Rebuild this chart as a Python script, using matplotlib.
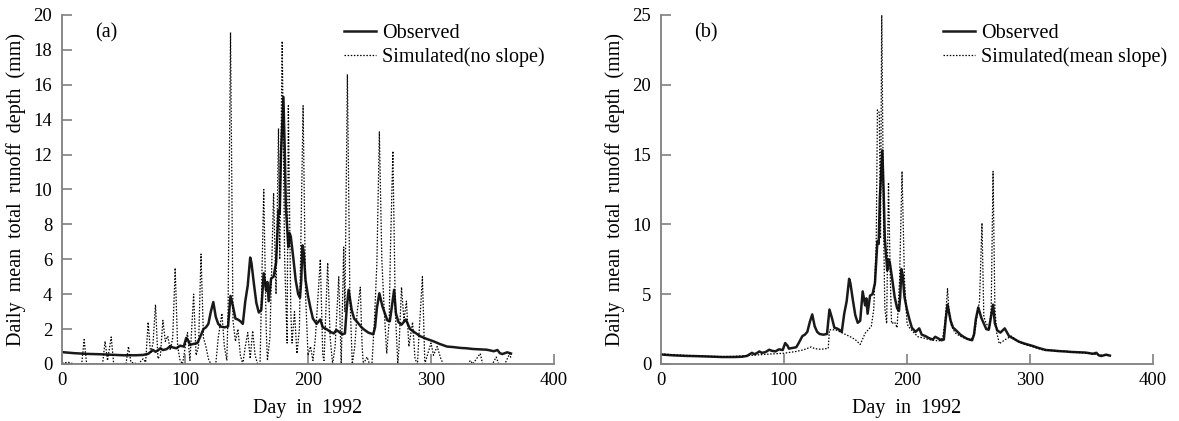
import matplotlib.pyplot as plt

plt.rcParams['font.family'] = ['Liberation Serif', 'DejaVu Serif']
plt.rcParams['font.size'] = 14.5

# observed daily runoff depth (mm), shared by both panels
obs_day = [0, 10, 20, 30, 40, 50, 60, 66, 70, 74, 76, 78, 80, 82, 85, 88, 90, 93, 96, 99,
           101, 103, 104, 107, 110, 112, 115, 117, 119, 121, 123, 125, 127, 129, 132, 135,
           137, 139, 141, 143, 145, 147, 149, 151, 153, 154, 156, 158, 160, 162, 164, 166,
           167, 168, 170, 172, 174, 176, 177, 178, 180, 181, 182, 183, 184, 185, 186, 188,
           190, 192, 193.5, 194.5, 195.5, 196.5, 198, 200, 202, 204, 207, 210, 212, 215,
           218, 221, 223, 226, 228, 230, 231.5, 233, 235.5, 237.5, 239.5, 243.5, 246, 249,
           253, 254.5, 256, 258, 260.5, 262.5, 264.5, 266.5, 268, 270, 271.5, 273.5, 276,
           279.5, 283, 287, 291, 296, 302, 307, 313, 318, 324, 329, 334, 339, 345, 348,
           351, 354, 356, 358, 360, 362, 365]
obs_val = [0.68, 0.62, 0.58, 0.56, 0.53, 0.50, 0.50, 0.52, 0.58, 0.80, 0.70, 0.78, 0.90,
           0.80, 0.85, 1.02, 0.95, 0.90, 1.05, 1.00, 1.50, 1.30, 1.10, 1.15, 1.20, 1.50,
           2.00, 2.10, 2.30, 3.00, 3.55, 2.70, 2.30, 2.15, 2.10, 2.15, 3.90, 3.30, 2.60,
           2.55, 2.45, 2.30, 3.60, 4.50, 6.10, 5.80, 4.60, 3.50, 2.95, 3.10, 5.20, 4.20,
           4.70, 3.60, 4.90, 5.00, 5.80, 8.80, 8.60, 12.0, 15.3, 12.5, 9.00, 7.80, 6.70,
           7.50, 7.30, 6.10, 4.80, 4.00, 3.80, 4.80, 6.80, 6.40, 4.80, 3.90, 3.20, 2.60,
           2.30, 2.55, 2.10, 2.00, 1.85, 1.75, 1.95, 1.80, 1.70, 1.75, 3.20, 4.25, 3.10,
           2.60, 2.45, 2.10, 1.95, 1.80, 1.70, 2.10, 3.20, 4.05, 3.30, 2.90, 2.50, 2.45,
           3.20, 4.25, 2.90, 2.40, 2.25, 2.55, 2.00, 1.80, 1.60, 1.45, 1.30, 1.15, 1.00,
           0.97, 0.92, 0.90, 0.86, 0.84, 0.82, 0.78, 0.73, 0.80, 0.62, 0.57, 0.62, 0.67,
           0.60]

# simulated, no slope (panel a)
sim_a_day = [0, 5, 10, 16, 18, 20, 33, 35, 37, 40, 42, 52, 54, 56, 62, 66, 68, 70, 72, 74,
             76, 78, 80, 82, 84, 86, 88, 90, 92, 94, 96, 98, 100, 102, 104, 107, 109, 111,
             113, 115, 117, 119, 121, 125, 127, 130, 132, 134, 135, 137, 139, 141, 143, 145,
             147, 149, 151, 153, 155, 157, 159, 161, 164, 166, 167, 169, 172, 174, 176, 177,
             179, 181, 183, 184, 186, 187, 189, 191, 193, 196, 198, 200, 202, 204, 206, 210,
             212, 213, 216, 218, 220, 222, 225, 227, 229, 230, 232, 234, 236, 238, 240,
             242.5, 244, 245, 248, 250, 252, 254, 256, 258, 260, 262, 264, 266, 267, 269,
             271, 273, 274, 276, 278, 280, 282, 285, 287, 289, 290, 293, 295, 297, 300, 302,
             305, 308, 310, 330, 332, 334, 340, 342, 350, 353, 355, 360, 364, 365]
sim_a_val = [0.05, 0.1, 0.0, 0.0, 1.4, 0.0, 0.0, 1.3, 0.2, 1.55, 0.0, 0.0, 1.0, 0.1, 0.0,
             0.3, 0.1, 2.4, 0.6, 1.2, 3.4, 0.3, 0.5, 2.5, 1.3, 1.6, 0.8, 1.5, 5.5, 1.0, 0.2,
             0.0, 0.9, 1.8, 0.2, 4.0, 0.5, 1.0, 6.3, 1.5, 1.0, 0.3, 0.0, 0.0, 1.5, 2.9, 1.0,
             0.2, 3.0, 19.0, 2.5, 1.3, 2.0, 0.5, 0.0, 1.0, 1.8, 0.3, 1.9, 0.5, 0.0, 0.0,
             10.0, 2.0, 0.2, 1.5, 9.8, 4.0, 13.5, 6.0, 18.5, 6.0, 1.2, 14.8, 3.0, 1.2, 3.0,
             0.6, 2.0, 14.8, 4.0, 0.5, 1.0, 0.2, 1.5, 6.0, 0.5, 0.2, 5.8, 1.5, 0.0, 1.0,
             5.0, 0.0, 6.7, 3.0, 16.6, 4.0, 0.0, 1.0, 3.0, 4.4, 1.0, 0.0, 0.4, 0.0, 0.0,
             2.5, 5.8, 13.3, 6.0, 3.0, 0.6, 2.5, 6.5, 12.2, 3.0, 0.0, 1.0, 4.4, 2.5, 3.6,
             1.0, 2.4, 0.3, 0.0, 1.4, 5.0, 0.0, 0.5, 1.2, 0.5, 1.0, 0.3, 0.0, 0.0, 0.2, 0.0,
             0.6, 0.0, 0.0, 0.4, 0.0, 0.0, 0.6, 0.3]

# simulated, mean slope (panel b)
sim_b_day = [0, 10, 20, 30, 40, 50, 60, 70, 80, 90, 100, 110, 116, 120, 122, 125, 130, 136,
             137, 142, 148, 154, 158, 162, 164, 166, 169, 171, 173, 175, 176, 177.5, 178.5,
             179.5, 181, 182, 183.5, 185, 186.5, 187.5, 190, 192, 194, 196, 198, 200, 201,
             205, 209, 214, 218, 222, 226, 229, 231, 233, 234, 236, 239, 243, 247, 252, 255,
             257, 259, 261, 262.5, 264, 267, 268.5, 270, 271.5, 273, 274, 275, 280, 285,
             289, 294, 300, 305, 311, 316, 322, 327, 333, 338, 343, 350, 356, 360, 365]
sim_b_val = [0.72, 0.66, 0.62, 0.58, 0.55, 0.52, 0.55, 0.60, 0.66, 0.72, 0.77, 0.90, 1.02,
             1.15, 1.22, 1.10, 1.05, 1.12, 2.45, 2.45, 2.20, 1.95, 1.75, 1.40, 1.80, 2.20,
             2.50, 2.70, 3.90, 8.60, 18.2, 18.0, 9.0, 25.3, 10.0, 4.0, 2.9, 13.0, 6.0, 2.9,
             3.0, 2.6, 6.0, 13.8, 6.0, 3.0, 2.7, 2.3, 1.95, 1.85, 1.75, 1.70, 1.65, 1.85,
             3.0, 5.4, 4.0, 2.8, 2.25, 2.0, 1.85, 1.70, 2.2, 3.5, 4.5, 10.1, 3.4, 3.0, 2.5,
             4.0, 13.8, 4.0, 2.2, 1.9, 1.45, 1.75, 2.0, 1.7, 1.45, 1.3, 1.15, 1.0, 0.97,
             0.92, 0.9, 0.86, 0.83, 0.8, 0.75, 0.65, 0.63, 0.6]

fig = plt.figure(figsize=(11.79, 4.21), dpi=100)
ax_a = fig.add_axes([0.0526, 0.1354, 0.4173, 0.829])
ax_b = fig.add_axes([0.5606, 0.1354, 0.4173, 0.829])

panels = [
    (ax_a, sim_a_day, sim_a_val, 'Simulated(no slope)', 20, range(0, 21, 2), '(a)'),
    (ax_b, sim_b_day, sim_b_val, 'Simulated(mean slope)', 25, range(0, 26, 5), '(b)'),
]

for ax, sd, sv, lab, ymax, yt, tag in panels:
    ax.plot(obs_day, obs_val, color='#1a1a1a', lw=1.8, label='Observed')
    ax.plot(sd, sv, color='black', lw=0.9, ls=(0, (1.2, 1.3)), label=lab)
    ax.set_xlim(0, 400)
    ax.set_ylim(0, ymax)
    ax.set_xticks(range(0, 401, 100))
    ax.set_yticks(list(yt))
    for s in ['top', 'right']:
        ax.spines[s].set_visible(False)
    for s in ['left', 'bottom']:
        ax.spines[s].set_color('#808080')
        ax.spines[s].set_linewidth(1.3)
    ax.tick_params(direction='in', length=7, width=1.2, color='#808080', labelsize=13.5)
    ax.tick_params(axis='y', pad=7)
    ax.tick_params(axis='x', pad=6)
    ax.set_xlabel('Day  in  1992')
    ax.set_ylabel('Daily  mean  total  runoff  depth  (mm)')
    ax.yaxis.set_label_coords(-0.073, 0.5)
    ax.xaxis.set_label_coords(0.5, -0.1)
    ax.text(0.067, 0.948, tag, transform=ax.transAxes, ha='left', va='center')
    ax.legend(loc='upper left', bbox_to_anchor=(0.573, 0.975), frameon=False,
              handlelength=1.6, handletextpad=0.3, labelspacing=0.2, borderpad=0,
              borderaxespad=0)

fig.savefig('out.png', dpi=100)
